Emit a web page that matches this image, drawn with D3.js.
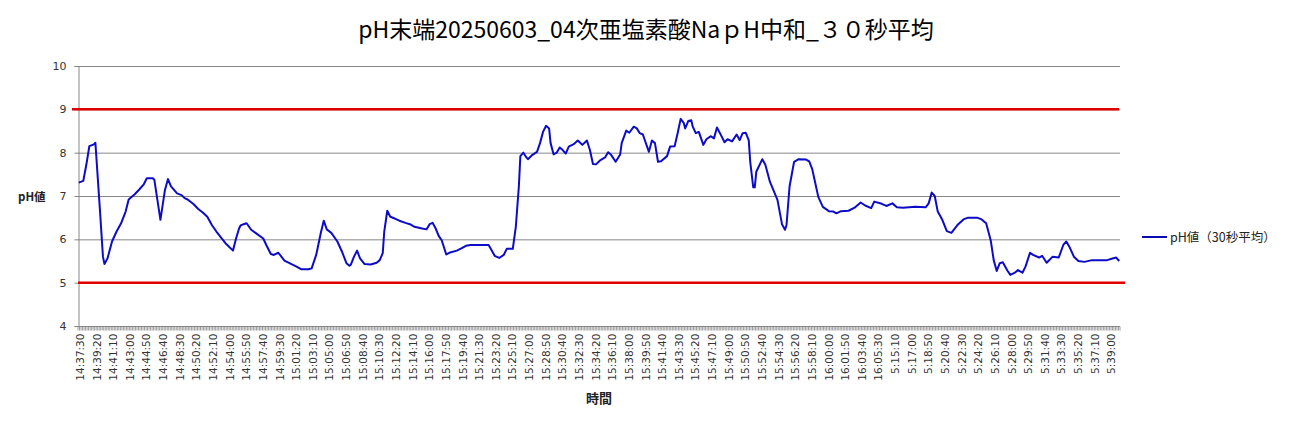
<!DOCTYPE html>
<html><head><meta charset="utf-8">
<script src="https://cdn.jsdelivr.net/npm/d3@7"></script>
<style>
html,body{margin:0;padding:0;background:#fff;}
svg{display:block;}
</style></head>
<body>
<svg id="chart" width="1292" height="422"></svg>
<script>
const chartTitle = "pH末端20250603_04次亜塩素酸NaｐH中和_３０秒平均";
const yAxisTitle = "pH値";
const xAxisTitle = "時間";
const seriesName = "pH値（30秒平均）";
const sampleCount = 689;
const labelEvery = 11;
const timeLabels = ["14:37:30","14:39:20","14:41:10","14:43:00","14:44:50","14:46:40","14:48:30","14:50:20","14:52:10","14:54:00","14:55:50","14:57:40","14:59:30","15:01:20","15:03:10","15:05:00","15:06:50","15:08:40","15:10:30","15:12:20","15:14:10","15:16:00","15:17:50","15:19:40","15:21:30","15:23:20","15:25:10","15:27:00","15:28:50","15:30:40","15:32:30","15:34:20","15:36:10","15:38:00","15:39:50","15:41:40","15:43:30","15:45:20","15:47:10","15:49:00","15:50:50","15:52:40","15:54:30","15:56:20","15:58:10","16:00:00","16:01:50","16:03:40","16:05:30","5:15:10","5:17:00","5:18:50","5:20:40","5:22:30","5:24:20","5:26:10","5:28:00","5:29:50","5:31:40","5:33:30","5:35:20","5:37:10","5:39:00"];
const yTicks = [4,5,6,7,8,9,10];
const limitValues = [9,5];
// sample index (30 s moving average samples) and pH value
const sampleIndex = [0,3,5,7,10,11,14,16,17,19,22,25,28,31,33,37,40,43,45,49,50,52,54,57,59,61,65,68,70,72,76,79,82,85,88,91,97,102,104,106,107,109,111,114,118,122,124,127,129,132,136,141,144,147,152,154,157,160,162,164,167,171,174,177,179,180,182,184,186,189,193,197,199,201,202,204,206,209,212,216,219,222,227,230,232,234,236,238,240,243,245,250,253,256,259,
265,271,273,275,278,281,283,287,289,291,292,294,296,297,300,303,305,307,309,311,312,314,316,318,320,322,324,327,330,333,336,338,340,342,345,348,350,352,355,358,359,362,364,367,369,371,373,377,379,381,383,385,389,391,394,396,398,400,401,403,405,406,408,410,413,415,418,420,422,424,427,429,432,435,437,439,441,443,444,446,447,448,452,454,457,462,465,467,468,470,473,476,481,483,485,487,489,492,496,499,501,
504,509,513,517,520,524,526,531,534,538,541,545,553,560,562,564,566,568,571,574,577,581,585,588,594,597,600,603,605,607,609,611,614,616,619,621,624,626,629,631,635,637,640,644,648,651,653,655,658,661,665,670,680,683,686,688];
const phValues = [7.31,7.35,7.72,8.15,8.19,8.23,6.68,5.6,5.43,5.56,5.95,6.18,6.37,6.64,6.92,7.04,7.15,7.27,7.41,7.41,7.37,6.91,6.45,7.14,7.39,7.22,7.06,7.02,6.95,6.92,6.81,6.70,6.62,6.52,6.33,6.18,5.91,5.74,6.02,6.25,6.32,6.35,6.37,6.22,6.12,6.02,5.87,5.66,5.64,5.69,5.51,5.42,5.37,5.31,5.31,5.33,5.64,6.14,6.43,6.23,6.15,5.95,5.72,5.45,5.39,5.42,5.6,5.74,5.56,5.43,5.42,5.46,5.52,5.68,6.18,6.66,6.52,6.48,6.43,6.38,6.35,6.29,6.25,6.23,6.35,6.38,6.25,6.08,5.98,5.65,5.69,5.74,5.79,5.85,5.87,
5.87,5.87,5.75,5.62,5.57,5.64,5.78,5.78,6.29,7.22,7.92,8.0,7.89,7.85,7.95,8.02,8.22,8.48,8.62,8.56,8.22,7.96,8.0,8.12,8.06,7.98,8.14,8.19,8.28,8.18,8.28,8.06,7.74,7.73,7.83,7.89,8.01,7.95,7.79,7.96,8.22,8.51,8.46,8.6,8.56,8.45,8.42,8.02,8.28,8.22,7.79,7.8,7.92,8.14,8.15,8.45,8.78,8.69,8.56,8.73,8.75,8.6,8.45,8.48,8.18,8.31,8.38,8.33,8.58,8.45,8.24,8.31,8.26,8.42,8.29,8.45,8.46,8.29,7.79,7.2,7.2,7.56,7.85,7.72,7.33,6.91,6.35,6.22,6.33,7.22,7.79,7.85,7.84,7.8,7.62,7.3,6.98,6.75,6.65,6.64,6.6,
6.65,6.66,6.73,6.85,6.78,6.72,6.87,6.82,6.77,6.83,6.74,6.73,6.75,6.74,6.83,7.08,7.0,6.64,6.45,6.19,6.15,6.33,6.46,6.5,6.5,6.46,6.37,5.98,5.52,5.27,5.45,5.47,5.28,5.18,5.23,5.29,5.23,5.37,5.69,5.64,5.58,5.62,5.46,5.6,5.58,5.87,5.95,5.83,5.6,5.5,5.48,5.52,5.52,5.55,5.58,5.5];

(function () {
const svg = d3.select("#chart");
const plotLeft = 78, plotRight = 1120, plotTop = 66, plotBottom = 326;
const gridColor = "#878787";
const cjk = "'Noto Sans CJK JP', 'DejaVu Sans', sans-serif";
const num = "'DejaVu Sans', 'Noto Sans CJK JP', sans-serif";

const x = d3.scaleBand().domain(d3.range(sampleCount)).range([plotLeft, plotRight]).paddingInner(0).paddingOuter(0);
const xc = i => x(i) + x.bandwidth() / 2;
const y = d3.scaleLinear().domain([4, 10]).range([plotBottom, plotTop]);

svg.append("rect").attr("width", 1292).attr("height", 422).attr("fill", "#fff");

// title
svg.append("text").attr("x", 646).attr("y", 38).attr("text-anchor", "middle")
  .attr("font-family", cjk).attr("font-size", 23).attr("fill", "#000").text(chartTitle);

// gridlines
svg.append("g").selectAll("line").data(yTicks.filter(d => d > 4)).join("line")
  .attr("x1", plotLeft).attr("x2", plotRight).attr("y1", d => y(d) + 0.5).attr("y2", d => y(d) + 0.5)
  .attr("stroke", gridColor).attr("stroke-width", 1);

// y axis
const yAxis = d3.axisLeft(y).tickValues(yTicks).tickSize(4).tickPadding(8).tickFormat(d3.format("d"));
const gy = svg.append("g").attr("transform", `translate(${plotLeft + 0.5},0)`).call(yAxis);
gy.select(".domain").attr("stroke", gridColor);
gy.selectAll(".tick line").attr("stroke", gridColor);
gy.selectAll(".tick text").attr("font-family", num).attr("font-size", 11).attr("fill", "#333");

// x axis with a tick per category
const gx = svg.append("g").attr("transform", `translate(0,${plotBottom + 0.5})`);
gx.append("line").attr("x1", plotLeft).attr("x2", plotRight).attr("stroke", gridColor);
gx.selectAll("line.cat").data(d3.range(sampleCount + 1)).join("line").attr("class", "cat")
  .attr("x1", i => plotLeft + i * x.bandwidth()).attr("x2", i => plotLeft + i * x.bandwidth())
  .attr("y1", 0).attr("y2", 4).attr("stroke", gridColor).attr("stroke-width", 0.8);
gx.selectAll("text").data(timeLabels).join("text")
  .attr("transform", (d, k) => `translate(${xc(k * labelEvery) + 1.5},${7}) rotate(-90)`)
  .attr("text-anchor", "end").attr("dy", "0.35em")
  .attr("font-family", num).attr("font-size", 10.5).attr("fill", "#333").text(d => d);

// limit lines
svg.append("line").attr("x1", plotLeft - 6).attr("x2", plotRight - 1).attr("y1", y(limitValues[0])).attr("y2", y(limitValues[0]))
  .attr("stroke", "#e00000").attr("stroke-width", 2.5);
svg.append("line").attr("x1", plotLeft).attr("x2", plotRight + 5).attr("y1", y(limitValues[1])).attr("y2", y(limitValues[1]))
  .attr("stroke", "#e00000").attr("stroke-width", 2.5);

// series
const pts = sampleIndex.map((s, k) => [s, phValues[k]]);
svg.append("path").datum(pts)
  .attr("d", d3.line().x(d => xc(d[0])).y(d => y(d[1])))
  .attr("fill", "none").attr("stroke", "#0c0cc8").attr("stroke-width", 2).attr("stroke-linejoin", "round");

// axis titles
svg.append("text").attr("x", 18).attr("y", 201).attr("font-family", cjk).attr("font-weight", "bold")
  .attr("font-size", 11.5).attr("fill", "#222").text(yAxisTitle);
svg.append("text").attr("x", (plotLeft + plotRight) / 2).attr("y", 403).attr("text-anchor", "middle")
  .attr("font-family", cjk).attr("font-weight", "bold").attr("font-size", 13).attr("fill", "#222").text(xAxisTitle);

// legend
svg.append("line").attr("x1", 1142).attr("x2", 1167).attr("y1", 237).attr("y2", 237)
  .attr("stroke", "#0a0ab0").attr("stroke-width", 2);
svg.append("text").attr("x", 1170).attr("y", 241.5).attr("font-family", cjk).attr("font-size", 12.5)
  .attr("fill", "#222").text(seriesName);
})();
</script>
</body></html>
